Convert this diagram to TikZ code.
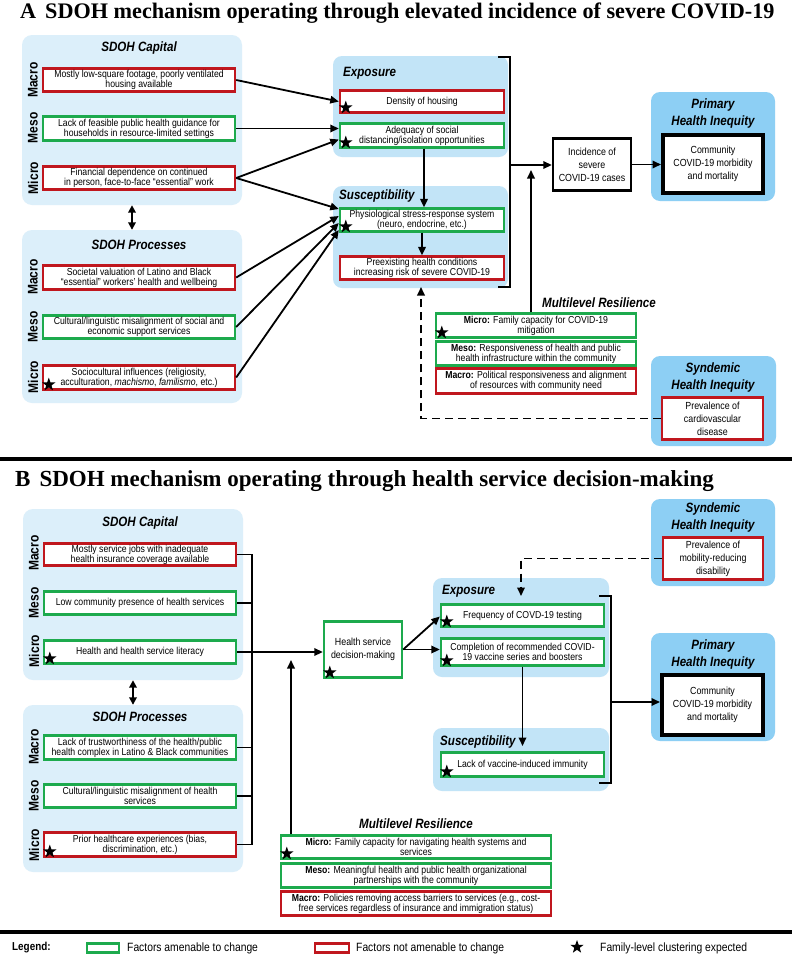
\documentclass[tikz,border=0pt]{standalone}
\usepackage{fontspec}
\setmainfont{Liberation Sans}[FakeStretch=0.86]
\newfontfamily\serifttl{Liberation Serif}
\usetikzlibrary{arrows.meta,shapes.geometric}
\definecolor{paleblue}{HTML}{DCEFFA}
\definecolor{midblue}{HTML}{C2E4F7}
\definecolor{skyblue}{HTML}{8DCFF4}
\definecolor{grn}{HTML}{1DAA4D}
\definecolor{rd}{HTML}{C0171E}
\newcommand{\factor}[7]{\node[#1, minimum width={(#5-#3-2)*1pt}, minimum height={(#6-#4-1.2)*1pt}] (#2) at ({(#3+#5)/2},{(#4+#6)/2}) {#7};}
\newcommand{\panelnode}[6]{\node[#1, minimum width={(#5-#3)*1pt}, minimum height={(#6-#4)*1pt}] (#2) at ({(#3+#5)/2},{(#4+#6)/2}) {};}
\newcommand{\fstar}[1]{\node[starmark] at ([xshift=7pt,yshift=6pt]#1.south west) {};}
\tikzset{
 fbase/.style={line width=2.4pt, fill=white, align=center, inner sep=0pt, font=\fontsize{10.1}{10.2}\selectfont},
 gbox/.style={fbase, draw=grn},
 rbox/.style={fbase, draw=rd},
 kbox/.style={fbase, draw=black, font=\fontsize{10.3}{13}\selectfont},
 gbox3/.style={gbox, font=\fontsize{10.3}{13}\selectfont},
 rbox3/.style={rbox, font=\fontsize{10.3}{13}\selectfont},
 palepanel/.style={fill=paleblue, rounded corners=10pt, inner sep=0pt},
 midpanel/.style={fill=midblue, rounded corners=9pt, inner sep=0pt},
 skypanel/.style={fill=skyblue, rounded corners=9pt, inner sep=0pt},
 ptitle/.style={font=\fontsize{13.5}{17}\selectfont\bfseries\itshape, inner sep=0pt, align=center},
 lvl/.style={font=\fontsize{14}{16}\selectfont\bfseries, rotate=90, inner sep=0pt},
 starmark/.style={star, star points=5, star point ratio=2.5, fill=black, draw=none, minimum size=14pt, inner sep=0pt},
 arr/.style={-{Triangle[length=8.5pt,width=7.5pt]}, line width=1.8pt},
 dbl/.style={{Triangle[length=7.5pt,width=7.5pt]}-{Triangle[length=7.5pt,width=7.5pt]}, line width=1.8pt},
 dasharr/.style={arr, dash pattern=on 8pt off 5pt},
 brk/.style={line width=2pt},
 ln/.style={line width=1.8pt},
 sep/.style={line width=3.8pt},
 ttl/.style={anchor=base west, inner sep=0pt, font=\serifttl\bfseries\fontsize{22.2}{24}\selectfont},
 lgtext/.style={anchor=west, inner sep=0pt, font=\fontsize{12}{14}\selectfont},
}
\begin{document}
\begin{tikzpicture}[x=1pt,y=-1pt]
\useasboundingbox (0,0) rectangle (792,956);
\fill[white] (0,0) rectangle (792,956);
% ================= Panel A =================
\node[ttl] (titleA) at (20,18) {A\hspace{9pt}SDOH mechanism operating through elevated incidence of severe COVID-19};
\panelnode{palepanel}{capApanel}{22}{35}{242}{205}
\panelnode{palepanel}{procApanel}{22}{230}{242}{403}
\node[ptitle] (tcapA) at (139,48) {SDOH Capital};
\node[ptitle] (tprocA) at (139,245) {SDOH Processes};
\node[lvl] (lvA1) at (33,80) {Macro};
\node[lvl] (lvA2) at (33,128) {Meso};
\node[lvl] (lvA3) at (33,178) {Micro};
\node[lvl] (lvA4) at (33,277) {Macro};
\node[lvl] (lvA5) at (33,327) {Meso};
\node[lvl] (lvA6) at (33,377) {Micro};
\factor{rbox}{capA1}{42}{68}{236}{92}{Mostly low-square footage, poorly ventilated\\housing available}
\factor{gbox}{capA2}{42}{116}{236}{141}{Lack of feasible public health guidance for\\households in resource-limited settings}
\factor{rbox}{capA3}{42}{166}{236}{190}{Financial dependence on continued\\in person, face-to-face “essential” work}
\factor{rbox}{procA1}{42}{265}{236}{290}{Societal valuation of Latino and Black\\“essential” workers’ health and wellbeing}
\factor{gbox}{procA2}{42}{315}{236}{339}{Cultural/linguistic misalignment of social and\\economic support services}
\factor{rbox}{procA3}{42}{365}{236}{390}{Sociocultural influences (religiosity,\\acculturation, \textit{machismo}, \textit{familismo}, etc.)}
\fstar{procA3}
\draw[dbl] (capApanel.south) -- (procApanel.north);
% exposure / susceptibility
\panelnode{midpanel}{expApanel}{333}{56}{508}{157}
\node[ptitle, anchor=west] (texpA) at (343,73) {Exposure};
\factor{rbox}{expA1}{339}{90}{505}{113}{Density of housing}
\factor{gbox}{expA2}{339}{123}{505}{148}{Adequacy of social\\distancing/isolation opportunities}
\panelnode{midpanel}{susApanel}{333}{186}{508}{288}
\node[ptitle, anchor=west] (tsusA) at (339,196) {Susceptibility};
\factor{gbox}{susA1}{339}{208}{505}{232}{Physiological stress-response system\\(neuro, endocrine, etc.)}
\factor{rbox}{susA2}{339}{256}{505}{280}{Preexisting health conditions\\increasing risk of severe COVID-19}
\fstar{expA1}
\fstar{expA2}
\fstar{susA1}
% incidence, primary
\factor{kbox}{incA}{552}{138}{632}{191}{Incidence of\\severe\\COVID-19 cases}
\panelnode{skypanel}{primApanel}{651}{92}{775}{201}
\node[ptitle] (tprimA) at (713,113.5) {Primary\\Health Inequity};
\factor{kbox, line width=4pt}{commA}{662}{134}{764}{194}{Community\\COVID-19 morbidity\\and mortality}
% multilevel resilience
\node[ptitle, anchor=west] (tmrA) at (542,303) {Multilevel Resilience};
\factor{gbox}{mrA1}{435}{313}{637}{338}{\textbf{Micro:} Family capacity for COVID-19\\mitigation}
\factor{gbox}{mrA2}{435}{341}{637}{366}{\textbf{Meso:} Responsiveness of health and public\\health infrastructure within the community}
\factor{rbox}{mrA3}{435}{368}{637}{394}{\textbf{Macro:} Political responsiveness and alignment\\of resources with community need}
\fstar{mrA1}
% syndemic
\panelnode{skypanel}{synApanel}{651}{356}{776}{446}
\node[ptitle] (tsynA) at (713,378) {Syndemic\\Health Inequity};
\factor{rbox3}{synA1}{661}{397}{764}{440}{Prevalence of\\cardiovascular\\disease}
% connectors A
\draw[arr] (capA1.east) -- (expA1.west);
\draw[arr] (capA2.east) -- (capA2.east -| expA2.west);
\draw[arr] (capA3.east) -- ([yshift=-4pt]expA2.west);
\draw[arr] (capA3.east) -- ([yshift=11pt]susA1.west);
\draw[arr] (procA1.east) -- ([yshift=4pt]susA1.west);
\draw[arr] (procA2.east) -- ([yshift=-3pt]susA1.west);
\draw[arr] (procA3.east) -- ([yshift=-10pt]susA1.west);
\draw[arr] ([xshift=2pt]expA2.south) -- ([xshift=2pt]expA2.south |- susA1.north);
\draw[arr] (susA1.south) -- (susA2.north);
\coordinate (bkAt) at (498,57);
\coordinate (bkAb) at (498,287);
\coordinate (bkAx) at (510,0);
\coordinate (bkAm) at (510,165);
\draw[brk] (bkAt) -- (bkAt -| bkAx) -- (bkAb -| bkAx) -- (bkAb);
\draw[arr] (bkAm) -- (bkAm -| incA.west);
\draw[arr] (incA.east) -- (incA.east -| commA.west);
\coordinate (upA) at (531,170);
\draw[arr] (upA |- mrA1.north) -- (upA);
\coordinate (dA) at (421,287);
\draw[dasharr] (synA1.west) -| (dA);
% separator
\coordinate (sepAL) at (0,459);
\coordinate (sepAR) at (792,459);
\draw[sep] (sepAL) -- (sepAR);
% ================= Panel B =================
\node[ttl, font=\serifttl\bfseries\fontsize{23}{25}\selectfont] (titleB) at (15,486) {B\hspace{9pt}SDOH mechanism operating through health service decision-making};
\panelnode{palepanel}{capBpanel}{23}{509}{243}{680}
\panelnode{palepanel}{procBpanel}{23}{705}{243}{872}
\node[ptitle] (tcapB) at (140,523) {SDOH Capital};
\node[ptitle] (tprocB) at (140,717) {SDOH Processes};
\node[lvl] (lvB1) at (34,553) {Macro};
\node[lvl] (lvB2) at (34,603) {Meso};
\node[lvl] (lvB3) at (34,651) {Micro};
\node[lvl] (lvB4) at (34,747) {Macro};
\node[lvl] (lvB5) at (34,796) {Meso};
\node[lvl] (lvB6) at (34,845) {Micro};
\factor{rbox}{capB1}{43}{543}{237}{566}{Mostly service jobs with inadequate\\health insurance coverage available}
\factor{gbox}{capB2}{43}{591}{237}{615}{Low community presence of health services}
\factor{gbox}{capB3}{43}{640}{237}{664}{Health and health service literacy}
\factor{gbox}{procB1}{43}{735}{237}{760}{Lack of trustworthiness of the health/public\\health complex in Latino \& Black communities}
\factor{gbox}{procB2}{43}{784}{237}{808}{Cultural/linguistic misalignment of health\\services}
\factor{rbox}{procB3}{43}{832}{237}{857}{Prior healthcare experiences (bias,\\discrimination, etc.)}
\fstar{capB3}
\fstar{procB3}
\draw[dbl] (capBpanel.south) -- (procBpanel.north);
% bus
\coordinate (busB) at (252,0);
\draw[ln] (capB1.east) -| (procB3.east -| busB) -- (procB3.east);
\draw[ln] (capB2.east) -- (capB2.east -| busB);
\draw[ln] (procB1.east) -- (procB1.east -| busB);
\draw[ln] (procB2.east) -- (procB2.east -| busB);
% decision
\factor{gbox3}{dec}{323}{621}{403}{678}{Health service\\decision-making}
\fstar{dec}
\draw[arr] (capB3.east) -- (capB3.east -| dec.west);
% exposure B
\panelnode{midpanel}{expBpanel}{433}{578}{609}{677}
\node[ptitle, anchor=west] (texpB) at (442,591) {Exposure};
\factor{gbox}{expB1}{440}{604}{605}{627}{Frequency of COVD-19 testing}
\factor{gbox}{expB2}{440}{638}{605}{666}{Completion of recommended COVID-\\19 vaccine series and boosters}
\fstar{expB1}
\fstar{expB2}
\panelnode{midpanel}{susBpanel}{433}{728}{609}{791}
\node[ptitle, anchor=west] (tsusB) at (440,742) {Susceptibility};
\factor{gbox}{susB1}{440}{752}{605}{777}{Lack of vaccine-induced immunity}
\fstar{susB1}
\draw[arr] (dec.east) -- ([yshift=-1pt]expB1.west);
\draw[arr] (dec.east) -- (dec.east -| expB2.west);
\coordinate (tipSusB) at (0,746);
\draw[arr] (expB2.south) -- (expB2.south |- tipSusB);
% primary B
\panelnode{skypanel}{primBpanel}{651}{633}{775}{741}
\node[ptitle] (tprimB) at (713,654.5) {Primary\\Health Inequity};
\factor{kbox, line width=4pt}{commB}{661}{674}{764}{736}{Community\\COVID-19 morbidity\\and mortality}
% syndemic B
\panelnode{skypanel}{synBpanel}{651}{499}{775}{586}
\node[ptitle] (tsynB) at (713,517.5) {Syndemic\\Health Inequity};
\factor{rbox3}{synB1}{662}{537}{764}{580}{Prevalence of\\mobility-reducing\\disability}
% bracket B
\coordinate (bkBt) at (599,596);
\coordinate (bkBb) at (599,783);
\coordinate (bkBx) at (611,0);
\coordinate (bkBm) at (611,702);
\draw[brk] (bkBt) -- (bkBt -| bkBx) -- (bkBb -| bkBx) -- (bkBb);
\draw[arr] (bkBm) -- (bkBm -| commB.west);
\coordinate (dB) at (521,596);
\draw[dasharr] (synB1.west) -| (dB);
% MR B
\node[ptitle] (tmrB) at (416,824) {Multilevel Resilience};
\factor{gbox}{mrB1}{280}{835}{552}{859}{\textbf{Micro:} Family capacity for navigating health systems and\\services}
\factor{gbox}{mrB2}{280}{863}{552}{888}{\textbf{Meso:} Meaningful health and public health organizational\\partnerships with the community}
\factor{rbox}{mrB3}{280}{891}{552}{916}{\textbf{Macro:} Policies removing access barriers to services (e.g., cost-\\free services regardless of insurance and immigration status)}
\fstar{mrB1}
\coordinate (upB) at (291,660);
\draw[arr] (upB |- mrB1.north) -- (upB);
% ================= Legend =================
\coordinate (sepBL) at (0,932);
\coordinate (sepBR) at (792,932);
\draw[sep] (sepBL) -- (sepBR);
\node[lgtext, font=\fontsize{11.5}{13}\selectfont\bfseries] (lgT) at (12,948) {Legend:};
\factor{gbox, line width=2.5pt}{lgG}{86}{943}{120}{953}{}
\node[lgtext] (lgGt) at (127,948) {Factors amenable to change};
\factor{rbox, line width=2.5pt}{lgR}{314}{943}{350}{953}{}
\node[lgtext] (lgRt) at (356,948) {Factors not amenable to change};
\node[starmark] (lgS) at (577,947) {};
\node[lgtext] (lgSt) at (600,948) {Family-level clustering expected};
\end{tikzpicture}
\end{document}
